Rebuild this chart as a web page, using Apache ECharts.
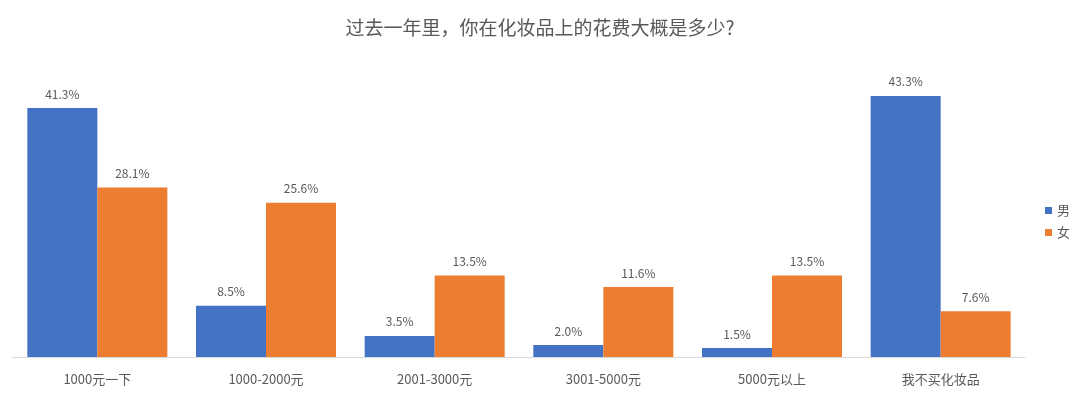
<!DOCTYPE html>
<html>
<head>
<meta charset="utf-8">
<script src="https://cdn.jsdelivr.net/npm/echarts@6/dist/echarts.min.js"></script>
<style>
  html, body { margin: 0; padding: 0; background: #fff; }
  #main { width: 1080px; height: 398px; }
</style>
</head>
<body>
<div id="main"></div>
<script>
// 类别与数据
const categories = ['1000元一下', '1000-2000元', '2001-3000元', '3001-5000元', '5000元以上', '我不买化妆品'];
const male = [41.3, 8.5, 3.5, 2.0, 1.5, 43.3];
const female = [28.1, 25.6, 13.5, 11.6, 13.5, 7.6];

const chart = echarts.init(document.getElementById('main'), null, { renderer: 'canvas' });
const font = '"Microsoft YaHei", "Noto Sans CJK SC", sans-serif';

const label = {
  show: true,
  position: 'top',
  distance: 8,
  color: '#595959',
  fontSize: 12,
  fontFamily: font,
  formatter: p => p.value.toFixed(1) + '%'
};

const option = {
  animation: false,
  title: {
    text: '过去一年里，你在化妆品上的花费大概是多少?',
    left: 'center',
    top: 13,
    textStyle: { color: '#595959', fontSize: 19, fontWeight: 'normal', fontFamily: font }
  },
  legend: {
    orient: 'vertical',
    left: 1040,
    top: 199,
    itemWidth: 7,
    itemHeight: 7,
    itemGap: 9,
    icon: 'rect',
    textStyle: { color: '#595959', fontSize: 13, fontFamily: font },
    data: ['男', '女']
  },
  grid: { left: 13, right: 55, top: 55.5, bottom: 41, containLabel: false },
  xAxis: {
    type: 'category',
    data: categories,
    axisLine: { lineStyle: { color: '#d9d9d9' } },
    axisTick: { show: false },
    axisLabel: { color: '#595959', fontSize: 13, margin: 16, fontFamily: font }
  },
  yAxis: {
    type: 'value',
    min: 0,
    max: 50,
    show: false,
    splitLine: { show: false }
  },
  series: [
    {
      name: '男', type: 'bar', data: male,
      itemStyle: { color: '#4472C4' },
      barGap: '0%', barCategoryGap: '17%',
      label: label
    },
    {
      name: '女', type: 'bar', data: female,
      itemStyle: { color: '#ED7D31' },
      label: label
    }
  ]
};
chart.setOption(option);
</script>
</body>
</html>
